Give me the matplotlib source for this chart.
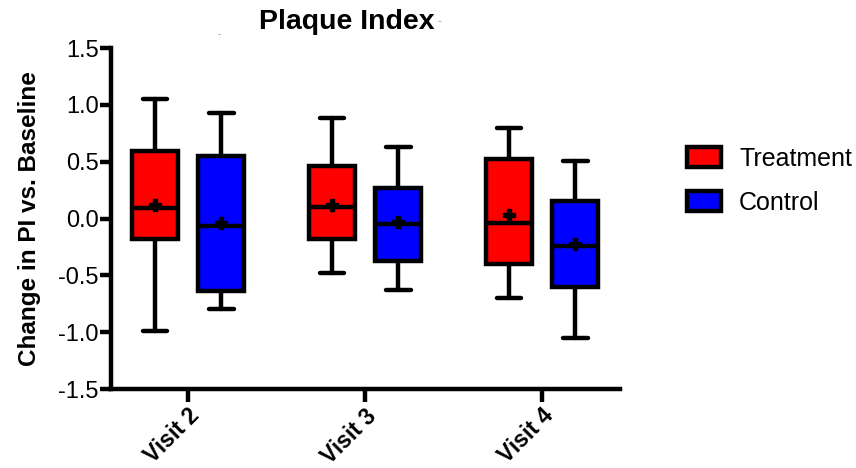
import matplotlib
matplotlib.use("Agg")
import matplotlib.pyplot as plt
from matplotlib.patches import Patch

plt.rcParams['font.family'] = ['Liberation Sans', 'DejaVu Sans']

visits = ["Visit 2", "Visit 3", "Visit 4"]
groups = ["Treatment", "Control"]
colors = {"Treatment": "#FF0000", "Control": "#0000FF"}

# Box statistics per visit (Visit 2, Visit 3, Visit 4)
treat_whislo = [-0.99, -0.48, -0.70]
treat_q1     = [-0.18, -0.18, -0.40]
treat_med    = [0.09, 0.10, -0.04]
treat_q3     = [0.59, 0.46, 0.52]
treat_whishi = [1.05, 0.88, 0.80]
treat_mean   = [0.12, 0.12, 0.03]

ctrl_whislo = [-0.80, -0.63, -1.05]
ctrl_q1     = [-0.64, -0.37, -0.60]
ctrl_med    = [-0.07, -0.05, -0.24]
ctrl_q3     = [0.55, 0.27, 0.15]
ctrl_whishi = [0.93, 0.63, 0.51]
ctrl_mean   = [-0.04, -0.03, -0.22]

yticks = [-1.5, -1.0, -0.5, 0.0, 0.5, 1.0, 1.5]

fig = plt.figure(figsize=(8.56, 4.68), dpi=100)
ax = fig.add_axes([111/856, 1-389/468, (620-111)/856, (389-48)/468])

def stats(lo, q1, med, q3, hi, mean):
    return [dict(whislo=a, q1=b, med=c, q3=d, whishi=e, mean=f, fliers=[])
            for a, b, c, d, e, f in zip(lo, q1, med, q3, hi, mean)]

series = {
    "Treatment": stats(treat_whislo, treat_q1, treat_med, treat_q3, treat_whishi, treat_mean),
    "Control": stats(ctrl_whislo, ctrl_q1, ctrl_med, ctrl_q3, ctrl_whishi, ctrl_mean),
}
offsets = {"Treatment": -0.187, "Control": 0.187}
lw = 3.2
for g in groups:
    pos = [i + 1 + offsets[g] for i in range(len(visits))]
    ax.bxp(series[g], positions=pos, widths=0.26, patch_artist=True,
           showmeans=True, showfliers=False,
           boxprops=dict(facecolor=colors[g], edgecolor='black', linewidth=lw),
           medianprops=dict(color='black', linewidth=lw),
           whiskerprops=dict(color='black', linewidth=lw, solid_capstyle='round'),
           capprops=dict(color='black', linewidth=lw, solid_capstyle='round'),
           meanprops=dict(marker='P', markerfacecolor='black', markeredgecolor='black',
                          markersize=8),
           capwidths=0.14, manage_ticks=False)

ax.set_xlim(0.565, 3.44)
ax.set_ylim(-1.5, 1.5)
ax.set_yticks(yticks)
ax.set_yticklabels([f"{v:.1f}" for v in yticks], fontsize=17)
ax.set_xticks([1, 2, 3])
ax.set_xticklabels(visits, rotation=45, ha='right', rotation_mode='anchor',
                   fontsize=16.5, fontweight='bold')
for s in ['top', 'right']:
    ax.spines[s].set_visible(False)
for s in ['left', 'bottom']:
    ax.spines[s].set_linewidth(3.2)
ax.tick_params(axis='y', width=3.2, length=8, pad=1)
ax.tick_params(axis='x', width=3.2, length=9, pad=2)
ax.set_ylabel("Change in PI vs. Baseline", fontsize=17.5, fontweight='bold', labelpad=12)

fig.text(347/856, 1-22/468, "Plaque Index", ha='center', va='center',
         fontsize=20.5, fontweight='bold')
fig.text(440/856, 1-22/468, "-", ha='center', va='center', fontsize=9, color='#aaaaaa')
fig.text(219/856, 1-34/468, "-", ha='center', va='center', fontsize=7, color='#999999')

handles = [Patch(facecolor=colors[g], edgecolor='black', linewidth=3.2, label=g) for g in groups]
fig.legend(handles=handles, loc='upper left', bbox_to_anchor=(687/856, 1-147/468),
           frameon=False, fontsize=18, handlelength=1.36, handleheight=0.84,
           handletextpad=0.72, labelspacing=0.8, borderaxespad=0, borderpad=0)

fig.savefig("out.png", dpi=100)
